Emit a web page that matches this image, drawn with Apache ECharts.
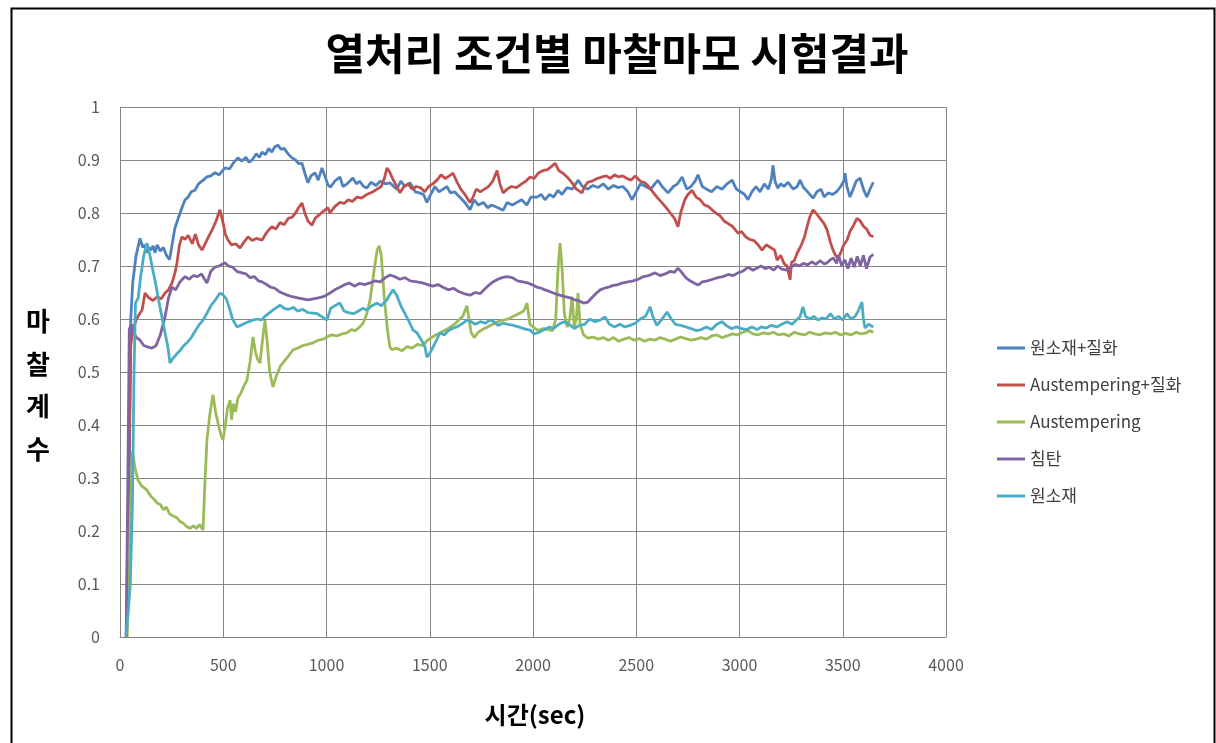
<!DOCTYPE html>
<html>
<head>
<meta charset="utf-8">
<script src="https://cdn.jsdelivr.net/npm/echarts@6/dist/echarts.min.js"></script>
<style>
  html, body { margin: 0; padding: 0; background: #fff; }
  #chart { width: 1216px; height: 743px; }
</style>
</head>
<body>
<div id="chart"></div>
<script>
// 마찰계수 측정값 [시간(sec), 마찰계수]
const seriesNames = ['원소재+질화', 'Austempering+질화', 'Austempering', '침탄', '원소재'];
const seriesColors = ['#4F81BD', '#C0504D', '#9BBB59', '#8064A2', '#4BACC6'];
const xTicks = [0, 500, 1000, 1500, 2000, 2500, 3000, 3500, 4000];
const yTicks = [0, 0.1, 0.2, 0.3, 0.4, 0.5, 0.6, 0.7, 0.8, 0.9, 1];

const rawNitrided = [
  [30,0],[38,0.1],[46,0.35],[52,0.6],[62,0.67],[78,0.72],[97,0.752],[110,0.735],[120,0.74],[130,0.725],[140,0.735],[150,0.73],[160,0.738],[170,0.725],[180,0.74],[195,0.728],[210,0.735],[225,0.72],[240,0.712],[250,0.735],[265,0.77],[282,0.79],[300,0.81],[315,0.825],[330,0.83],[345,0.84],[363,0.843],[380,0.855],[403,0.862],[420,0.868],[440,0.87],[460,0.876],[480,0.872],[508,0.885],[530,0.883],[550,0.895],[571,0.904],[590,0.898],[610,0.905],[625,0.896],[640,0.9],[660,0.912],[675,0.905],[688,0.915],[705,0.91],[720,0.922],[735,0.915],[750,0.925],[765,0.928],[780,0.92],[795,0.922],[813,0.912],[830,0.905],[850,0.9],[865,0.893],[881,0.894],[895,0.875],[910,0.857],[925,0.87],[944,0.876],[960,0.862],[978,0.885],[992,0.87],[1007,0.853],[1020,0.849],[1040,0.86],[1065,0.868],[1080,0.85],[1100,0.855],[1128,0.866],[1145,0.855],[1160,0.86],[1180,0.85],[1196,0.847],[1215,0.858],[1240,0.852],[1260,0.86],[1285,0.855],[1307,0.857],[1325,0.85],[1340,0.845],[1360,0.86],[1380,0.85],[1404,0.857],[1430,0.84],[1450,0.838],[1470,0.835],[1486,0.82],[1505,0.835],[1525,0.85],[1545,0.84],[1565,0.845],[1583,0.85],[1600,0.838],[1620,0.84],[1645,0.83],[1670,0.82],[1695,0.806],[1715,0.825],[1735,0.815],[1760,0.82],[1780,0.81],[1800,0.815],[1830,0.81],[1855,0.805],[1875,0.82],[1900,0.815],[1922,0.82],[1945,0.825],[1970,0.815],[1990,0.83],[2019,0.83],[2040,0.835],[2058,0.825],[2080,0.835],[2100,0.83],[2121,0.843],[2140,0.835],[2165,0.848],[2190,0.845],[2218,0.862],[2240,0.85],[2265,0.845],[2290,0.852],[2315,0.848],[2340,0.855],[2365,0.845],[2390,0.852],[2410,0.848],[2435,0.85],[2460,0.84],[2479,0.825],[2500,0.84],[2520,0.855],[2545,0.85],[2570,0.845],[2590,0.855],[2605,0.862],[2625,0.85],[2654,0.838],[2680,0.85],[2700,0.855],[2722,0.868],[2745,0.845],[2765,0.85],[2785,0.86],[2799,0.872],[2820,0.85],[2840,0.845],[2865,0.84],[2890,0.85],[2915,0.845],[2940,0.855],[2964,0.862],[2985,0.845],[3005,0.84],[3025,0.835],[3041,0.825],[3060,0.84],[3080,0.85],[3099,0.84],[3120,0.855],[3140,0.845],[3155,0.865],[3162,0.89],[3172,0.86],[3185,0.847],[3200,0.855],[3215,0.85],[3235,0.858],[3260,0.845],[3280,0.85],[3293,0.862],[3310,0.848],[3330,0.84],[3356,0.828],[3375,0.84],[3395,0.845],[3410,0.83],[3430,0.838],[3450,0.835],[3470,0.84],[3490,0.85],[3505,0.86],[3511,0.875],[3520,0.85],[3535,0.83],[3550,0.845],[3565,0.86],[3584,0.866],[3600,0.845],[3617,0.83],[3632,0.845],[3648,0.858]
];

const austemperNitrided = [
  [30,0],[42,0.3],[52,0.55],[62,0.58],[80,0.6],[95,0.61],[107,0.617],[121,0.649],[140,0.64],[160,0.635],[180,0.642],[200,0.638],[218,0.649],[235,0.655],[252,0.668],[265,0.685],[276,0.706],[288,0.74],[300,0.755],[315,0.75],[330,0.758],[350,0.742],[365,0.76],[380,0.74],[397,0.73],[410,0.74],[425,0.752],[446,0.768],[465,0.785],[484,0.806],[500,0.78],[510,0.76],[523,0.749],[540,0.74],[560,0.742],[581,0.734],[600,0.745],[620,0.755],[640,0.748],[660,0.752],[688,0.749],[705,0.76],[720,0.768],[736,0.774],[755,0.77],[775,0.782],[795,0.778],[815,0.79],[833,0.792],[850,0.8],[865,0.81],[881,0.819],[895,0.8],[910,0.785],[930,0.777],[945,0.79],[960,0.795],[975,0.8],[990,0.805],[1007,0.81],[1017,0.8],[1040,0.812],[1065,0.82],[1085,0.818],[1105,0.825],[1125,0.822],[1148,0.83],[1170,0.828],[1195,0.835],[1225,0.84],[1245,0.845],[1265,0.85],[1280,0.865],[1293,0.885],[1305,0.878],[1320,0.865],[1340,0.85],[1356,0.838],[1375,0.85],[1395,0.855],[1415,0.845],[1435,0.85],[1455,0.848],[1475,0.84],[1495,0.85],[1515,0.855],[1535,0.862],[1555,0.872],[1575,0.865],[1595,0.87],[1613,0.875],[1630,0.86],[1650,0.845],[1670,0.835],[1695,0.82],[1710,0.83],[1725,0.845],[1745,0.84],[1765,0.845],[1785,0.85],[1805,0.86],[1826,0.88],[1840,0.855],[1855,0.838],[1875,0.845],[1895,0.85],[1920,0.848],[1945,0.855],[1965,0.86],[1986,0.868],[2005,0.865],[2025,0.875],[2049,0.88],[2070,0.882],[2090,0.888],[2107,0.894],[2125,0.88],[2145,0.875],[2165,0.868],[2189,0.857],[2210,0.845],[2237,0.838],[2250,0.85],[2265,0.858],[2285,0.86],[2310,0.865],[2334,0.868],[2355,0.87],[2375,0.865],[2395,0.872],[2415,0.868],[2435,0.87],[2455,0.865],[2475,0.862],[2495,0.87],[2520,0.86],[2542,0.857],[2560,0.85],[2580,0.84],[2600,0.83],[2625,0.819],[2645,0.81],[2665,0.8],[2685,0.79],[2702,0.774],[2715,0.8],[2735,0.825],[2750,0.835],[2770,0.843],[2790,0.83],[2810,0.825],[2830,0.815],[2850,0.812],[2867,0.806],[2885,0.8],[2905,0.795],[2925,0.785],[2945,0.78],[2965,0.775],[2980,0.768],[2993,0.762],[3010,0.765],[3030,0.755],[3050,0.75],[3070,0.748],[3090,0.74],[3109,0.73],[3130,0.74],[3150,0.735],[3170,0.73],[3182,0.711],[3200,0.72],[3215,0.705],[3230,0.7],[3245,0.674],[3252,0.707],[3265,0.71],[3280,0.725],[3300,0.74],[3315,0.755],[3327,0.774],[3340,0.792],[3356,0.806],[3370,0.8],[3390,0.79],[3410,0.78],[3424,0.768],[3440,0.745],[3453,0.73],[3465,0.72],[3477,0.715],[3490,0.725],[3505,0.74],[3521,0.749],[3535,0.765],[3550,0.775],[3569,0.79],[3585,0.785],[3600,0.775],[3615,0.77],[3632,0.758],[3648,0.755]
];

const austempered = [
  [35,0],[48,0.2],[60,0.35],[72,0.32],[87,0.296],[105,0.285],[131,0.277],[150,0.265],[165,0.26],[179,0.253],[195,0.25],[210,0.24],[225,0.245],[240,0.232],[260,0.228],[276,0.225],[290,0.218],[305,0.215],[324,0.208],[340,0.205],[355,0.21],[370,0.205],[385,0.212],[402,0.202],[410,0.28],[421,0.372],[435,0.42],[450,0.457],[465,0.42],[480,0.395],[490,0.38],[499,0.372],[510,0.4],[520,0.43],[533,0.447],[540,0.41],[550,0.44],[560,0.425],[570,0.45],[585,0.46],[596,0.47],[615,0.485],[630,0.52],[644,0.566],[655,0.54],[665,0.525],[678,0.517],[690,0.56],[702,0.598],[712,0.56],[725,0.5],[741,0.472],[755,0.49],[775,0.51],[795,0.52],[815,0.53],[838,0.542],[860,0.545],[885,0.55],[910,0.552],[935,0.555],[960,0.56],[985,0.562],[1002,0.566],[1025,0.57],[1050,0.568],[1075,0.572],[1099,0.574],[1120,0.58],[1140,0.578],[1160,0.585],[1177,0.592],[1195,0.61],[1211,0.636],[1230,0.69],[1245,0.73],[1255,0.738],[1265,0.72],[1280,0.64],[1295,0.58],[1307,0.547],[1317,0.542],[1340,0.545],[1365,0.54],[1390,0.548],[1415,0.545],[1440,0.552],[1465,0.55],[1490,0.56],[1510,0.565],[1530,0.57],[1555,0.575],[1580,0.58],[1600,0.585],[1620,0.59],[1640,0.598],[1660,0.605],[1680,0.625],[1690,0.6],[1700,0.575],[1715,0.565],[1735,0.575],[1755,0.58],[1780,0.585],[1805,0.59],[1830,0.595],[1855,0.598],[1880,0.6],[1905,0.605],[1930,0.61],[1955,0.615],[1971,0.63],[1985,0.59],[2000,0.585],[2025,0.578],[2050,0.582],[2075,0.58],[2095,0.578],[2110,0.6],[2122,0.7],[2131,0.743],[2140,0.7],[2152,0.61],[2165,0.585],[2178,0.6],[2189,0.642],[2200,0.585],[2210,0.6],[2218,0.649],[2228,0.59],[2245,0.57],[2266,0.564],[2290,0.566],[2315,0.562],[2340,0.565],[2365,0.56],[2390,0.565],[2415,0.558],[2440,0.562],[2465,0.565],[2490,0.56],[2515,0.563],[2540,0.558],[2565,0.562],[2590,0.56],[2615,0.565],[2640,0.562],[2665,0.558],[2690,0.562],[2715,0.566],[2740,0.563],[2765,0.56],[2790,0.562],[2815,0.565],[2840,0.562],[2865,0.568],[2890,0.57],[2915,0.565],[2940,0.568],[2965,0.572],[2990,0.57],[3015,0.575],[3040,0.578],[3065,0.572],[3090,0.57],[3115,0.574],[3140,0.572],[3165,0.575],[3190,0.57],[3215,0.572],[3240,0.568],[3265,0.575],[3290,0.572],[3315,0.57],[3340,0.575],[3365,0.572],[3390,0.57],[3415,0.574],[3440,0.572],[3465,0.575],[3490,0.57],[3515,0.573],[3540,0.57],[3565,0.575],[3590,0.572],[3615,0.574],[3630,0.578],[3648,0.575]
];

const carburized = [
  [30,0],[38,0.3],[45,0.58],[55,0.59],[65,0.575],[80,0.565],[97,0.56],[115,0.55],[136,0.547],[155,0.545],[175,0.55],[195,0.57],[218,0.604],[235,0.64],[252,0.66],[270,0.655],[290,0.67],[315,0.68],[335,0.675],[355,0.682],[375,0.68],[395,0.685],[410,0.675],[421,0.668],[440,0.69],[460,0.698],[480,0.7],[508,0.706],[525,0.7],[545,0.698],[565,0.69],[591,0.687],[610,0.685],[630,0.678],[650,0.68],[670,0.672],[688,0.67],[710,0.665],[730,0.66],[750,0.658],[770,0.652],[785,0.649],[810,0.645],[835,0.642],[860,0.64],[885,0.638],[910,0.636],[935,0.638],[960,0.64],[985,0.642],[1017,0.649],[1040,0.655],[1065,0.66],[1090,0.665],[1110,0.668],[1135,0.662],[1160,0.667],[1185,0.665],[1210,0.668],[1235,0.672],[1260,0.67],[1285,0.678],[1307,0.683],[1330,0.68],[1355,0.675],[1380,0.678],[1405,0.672],[1438,0.67],[1465,0.668],[1490,0.665],[1515,0.662],[1540,0.665],[1564,0.66],[1590,0.655],[1615,0.658],[1640,0.652],[1665,0.648],[1695,0.645],[1720,0.65],[1745,0.648],[1770,0.658],[1790,0.665],[1806,0.67],[1830,0.675],[1850,0.678],[1874,0.68],[1900,0.678],[1925,0.672],[1950,0.67],[1975,0.668],[2000,0.664],[2019,0.66],[2040,0.658],[2058,0.655],[2080,0.652],[2105,0.648],[2130,0.645],[2155,0.642],[2180,0.64],[2203,0.636],[2225,0.634],[2245,0.63],[2266,0.632],[2285,0.64],[2305,0.648],[2325,0.655],[2345,0.658],[2365,0.66],[2385,0.663],[2410,0.665],[2435,0.668],[2460,0.67],[2485,0.672],[2510,0.675],[2535,0.68],[2560,0.682],[2591,0.687],[2615,0.682],[2640,0.685],[2665,0.69],[2685,0.688],[2702,0.696],[2720,0.688],[2740,0.678],[2760,0.672],[2780,0.668],[2799,0.664],[2820,0.67],[2845,0.672],[2870,0.675],[2895,0.678],[2920,0.68],[2945,0.684],[2970,0.682],[2993,0.687],[3015,0.69],[3041,0.698],[3065,0.692],[3085,0.696],[3105,0.7],[3125,0.695],[3145,0.698],[3165,0.692],[3185,0.7],[3205,0.694],[3230,0.692],[3250,0.698],[3270,0.703],[3290,0.7],[3310,0.705],[3330,0.702],[3350,0.708],[3370,0.703],[3390,0.71],[3410,0.704],[3424,0.706],[3440,0.712],[3455,0.715],[3470,0.705],[3480,0.72],[3495,0.7],[3510,0.712],[3525,0.695],[3540,0.715],[3555,0.698],[3570,0.718],[3585,0.7],[3600,0.72],[3615,0.695],[3632,0.717],[3648,0.722]
];

const rawMaterial = [
  [30,0],[50,0.1],[60,0.25],[68,0.5],[75,0.63],[88,0.64],[100,0.68],[115,0.72],[131,0.743],[145,0.72],[160,0.69],[169,0.674],[185,0.64],[203,0.604],[220,0.57],[232,0.547],[242,0.517],[255,0.525],[270,0.532],[290,0.54],[305,0.548],[324,0.555],[345,0.565],[365,0.578],[385,0.59],[402,0.598],[420,0.61],[440,0.625],[460,0.635],[484,0.649],[500,0.645],[515,0.638],[530,0.62],[545,0.6],[566,0.585],[585,0.588],[605,0.592],[625,0.595],[644,0.598],[665,0.6],[685,0.598],[705,0.606],[725,0.612],[745,0.618],[775,0.626],[795,0.62],[815,0.618],[840,0.622],[860,0.615],[885,0.618],[910,0.612],[935,0.611],[955,0.61],[975,0.605],[1002,0.598],[1020,0.62],[1040,0.625],[1065,0.63],[1085,0.615],[1105,0.612],[1130,0.61],[1155,0.615],[1175,0.62],[1196,0.617],[1220,0.625],[1245,0.63],[1265,0.625],[1290,0.635],[1310,0.648],[1322,0.655],[1340,0.645],[1360,0.625],[1380,0.61],[1400,0.595],[1419,0.579],[1438,0.574],[1460,0.56],[1477,0.547],[1486,0.528],[1500,0.535],[1520,0.55],[1550,0.574],[1570,0.57],[1590,0.578],[1610,0.582],[1630,0.585],[1661,0.592],[1680,0.598],[1700,0.595],[1720,0.59],[1745,0.595],[1770,0.592],[1790,0.598],[1810,0.595],[1830,0.588],[1855,0.592],[1880,0.59],[1905,0.588],[1930,0.585],[1955,0.582],[1986,0.579],[2005,0.572],[2030,0.575],[2055,0.58],[2080,0.585],[2100,0.582],[2125,0.59],[2150,0.595],[2175,0.59],[2200,0.582],[2225,0.588],[2250,0.59],[2275,0.6],[2300,0.595],[2325,0.598],[2349,0.604],[2370,0.59],[2395,0.585],[2420,0.59],[2445,0.585],[2470,0.588],[2495,0.592],[2520,0.6],[2545,0.605],[2567,0.623],[2580,0.605],[2600,0.588],[2625,0.6],[2649,0.613],[2670,0.6],[2690,0.59],[2715,0.588],[2740,0.585],[2765,0.582],[2790,0.578],[2815,0.58],[2840,0.585],[2865,0.58],[2890,0.59],[2915,0.595],[2935,0.588],[2960,0.582],[2985,0.585],[3010,0.582],[3035,0.58],[3060,0.585],[3085,0.58],[3105,0.585],[3130,0.583],[3155,0.588],[3180,0.585],[3205,0.59],[3230,0.595],[3255,0.59],[3275,0.598],[3293,0.604],[3307,0.623],[3320,0.605],[3340,0.6],[3360,0.605],[3380,0.598],[3400,0.602],[3420,0.6],[3440,0.61],[3460,0.6],[3480,0.605],[3500,0.598],[3520,0.61],[3540,0.6],[3560,0.605],[3575,0.615],[3593,0.632],[3600,0.6],[3608,0.583],[3625,0.59],[3648,0.585]
];

const seriesData = [rawNitrided, austemperNitrided, austempered, carburized, rawMaterial];

const FONT = '"Noto Sans CJK KR", "Noto Sans", sans-serif';
const chart = echarts.init(document.getElementById('chart'), null, { renderer: 'canvas' });

chart.setOption({
  animation: false,
  backgroundColor: '#ffffff',
  title: {
    text: '열처리 조건별 마찰마모 시험결과',
    left: 612, top: 27, textAlign: 'center',
    textStyle: { fontFamily: FONT, fontSize: 43, fontWeight: 'bold', color: '#000' }
  },
  grid: { left: 120, top: 107, right: 270, bottom: 106, containLabel: false },
  legend: {
    orient: 'vertical', left: 992, top: 333,
    itemWidth: 28, itemHeight: 3, itemGap: 17, icon: 'rect',
    textStyle: { fontFamily: FONT, fontSize: 17, color: '#404040', lineHeight: 20 },
    data: seriesNames
  },
  xAxis: {
    type: 'value', min: xTicks[0], max: xTicks[xTicks.length - 1], interval: xTicks[1] - xTicks[0],
    axisLine: { lineStyle: { color: '#868686', width: 1 } },
    axisTick: { show: false },
    splitLine: { show: true, lineStyle: { color: '#868686', width: 1 } },
    axisLabel: { color: '#595959', fontFamily: FONT, fontSize: 16, margin: 20,
      formatter: v => String(v) }
  },
  yAxis: {
    type: 'value', min: yTicks[0], max: yTicks[yTicks.length - 1], interval: 0.1,
    axisLine: { show: true, lineStyle: { color: '#868686', width: 1 } },
    axisTick: { show: false },
    splitLine: { show: true, lineStyle: { color: '#868686', width: 1 } },
    axisLabel: { color: '#595959', fontFamily: FONT, fontSize: 16, margin: 20,
      formatter: v => String(Math.round(v * 10) / 10) }
  },
  graphic: [
    { type: 'rect', left: 9, top: 6, shape: { width: 1203, height: 745 },
      style: { fill: 'none', stroke: '#000', lineWidth: 2 }, z: 100 },
    { type: 'text', left: 26, top: 300,
      style: { text: '마\n찰\n계\n수', font: 'bold 26px ' + FONT, fill: '#000', lineHeight: 42.5 } },
    { type: 'text', x: 535, y: 715,
      style: { text: '시간(sec)', font: 'bold 24px ' + FONT, fill: '#000',
        align: 'center', verticalAlign: 'middle', textAlign: 'center', textVerticalAlign: 'middle' } }
  ],
  series: seriesNames.map((name, i) => ({
    name, type: 'line', data: seriesData[i], showSymbol: false, symbol: 'none',
    color: seriesColors[i],
    lineStyle: { width: 2.8, color: seriesColors[i] }
  }))
});
</script>
</body>
</html>
